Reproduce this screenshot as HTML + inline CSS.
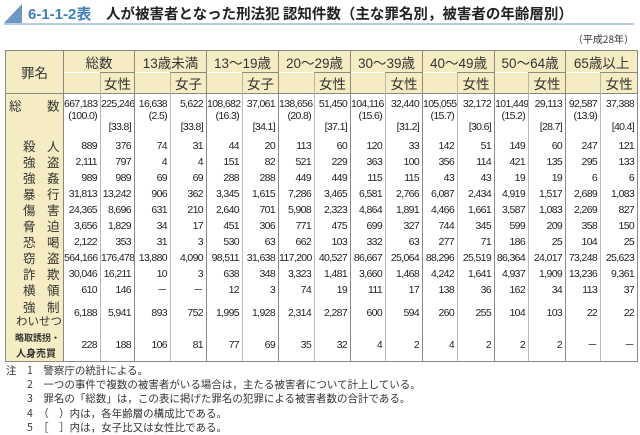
<!DOCTYPE html>
<html><head><meta charset="utf-8">
<style>
body{margin:0;width:640px;height:435px;background:#fff;position:relative;overflow:hidden;font-family:"Liberation Sans","Noto Sans CJK JP",sans-serif;color:#222}
.title{position:absolute;left:0;top:0;width:640px;height:50px}
table{position:absolute;left:5px;top:50px;border-collapse:collapse;table-layout:fixed;width:632px;font-family:"Liberation Sans","Noto Sans CJK JP",sans-serif;}
td{padding:0;font-size:10.5px;letter-spacing:-0.65px;text-align:right;padding-right:3px;white-space:nowrap;overflow:hidden}
.h td{background:#f6ecc4;font-family:"Liberation Sans","Noto Sans CJK JP",sans-serif;font-size:13.5px;letter-spacing:0;color:#333}
.g{border-left:1px solid #8a8a80}
.s{border-left:1px solid #b8b8b0}
.lab{background:#f6ecc4;text-align:left;font-family:"Noto Sans CJK JP",sans-serif;font-size:12.5px;letter-spacing:0;padding:0;position:relative;color:#333;overflow:visible}
.lab span{position:absolute;top:50%;transform:translateY(-50%);white-space:nowrap}
tr.r td{height:16px;line-height:16px}
.notes{position:absolute;left:6px;top:364px;font-family:"Noto Sans CJK JP",sans-serif;font-size:10.5px;line-height:14.2px;color:#333}
.notes div{white-space:nowrap}
</style></head><body>
<svg class="title" width="640" height="50">
<polygon points="4,23 22,4 22,23" fill="#6f97c4"/>
<line x1="4" y1="24" x2="634" y2="24" stroke="#9fbbd8" stroke-width="1.5"/>
<text x="28" y="19" font-family="Liberation Sans,Noto Sans CJK JP,sans-serif" font-size="15" font-weight="bold" fill="#3f7fbf">6-1-1-2表</text>
<text x="106" y="19" font-family="Noto Sans CJK JP,sans-serif" font-size="14.5" font-weight="bold" fill="#222">人が被害者となった刑法犯 認知件数（主な罪名別，被害者の年齢層別）</text>
<text x="634" y="43" text-anchor="end" font-family="Noto Sans CJK JP,sans-serif" font-size="10" fill="#333">（平成28年）</text>
</svg>
<table>
<colgroup><col style="width:58px"><col style="width:37px"><col style="width:34px"><col style="width:36px"><col style="width:36px"><col style="width:36px"><col style="width:36px"><col style="width:36px"><col style="width:36px"><col style="width:35px"><col style="width:37px"><col style="width:35px"><col style="width:37px"><col style="width:34px"><col style="width:37px"><col style="width:35px"><col style="width:37px"></colgroup>
<tr class="h" style="height:22px">
<td rowspan="2" style="border:1px solid #8a8a80;text-align:center;padding:0">罪名</td>
<td colspan="2" class="g" style="text-align:center;padding:0;border-top:1px solid #8a8a80">総数</td>
<td colspan="2" class="g" style="text-align:center;padding:0;border-top:1px solid #8a8a80">13歳未満</td>
<td colspan="2" class="g" style="text-align:center;padding:0;border-top:1px solid #8a8a80">13～19歳</td>
<td colspan="2" class="g" style="text-align:center;padding:0;border-top:1px solid #8a8a80">20～29歳</td>
<td colspan="2" class="g" style="text-align:center;padding:0;border-top:1px solid #8a8a80">30～39歳</td>
<td colspan="2" class="g" style="text-align:center;padding:0;border-top:1px solid #8a8a80">40～49歳</td>
<td colspan="2" class="g" style="text-align:center;padding:0;border-top:1px solid #8a8a80">50～64歳</td>
<td colspan="2" class="g" style="text-align:center;padding:0;border-top:1px solid #8a8a80;border-right:1px solid #8a8a80">65歳以上</td>
</tr>
<tr class="h" style="height:21px">
<td class="g"></td><td class="s" style="border-top:1px solid #8a8a80;text-align:center;padding:0">女性</td>
<td class="g"></td><td class="s" style="border-top:1px solid #8a8a80;text-align:center;padding:0">女子</td>
<td class="g"></td><td class="s" style="border-top:1px solid #8a8a80;text-align:center;padding:0">女子</td>
<td class="g"></td><td class="s" style="border-top:1px solid #8a8a80;text-align:center;padding:0">女性</td>
<td class="g"></td><td class="s" style="border-top:1px solid #8a8a80;text-align:center;padding:0">女性</td>
<td class="g"></td><td class="s" style="border-top:1px solid #8a8a80;text-align:center;padding:0">女性</td>
<td class="g"></td><td class="s" style="border-top:1px solid #8a8a80;text-align:center;padding:0">女性</td>
<td class="g"></td><td class="s" style="border-top:1px solid #8a8a80;text-align:center;padding:0;border-right:1px solid #8a8a80">女性</td>
</tr>
<tr style="height:44px;vertical-align:top;line-height:11.5px">
<td class="lab" style="border-left:1px solid #8a8a80;border-top:1px solid #8a8a80"><span style="left:3px;top:11px">総</span><span style="left:41px;top:11px">数</span></td>
<td class="g" style="border-top:1px solid #8a8a80;padding-top:5px">667,183<br>(100.0)</td><td class="s" style="border-top:1px solid #8a8a80;padding-top:5px">225,246<br><br>[33.8]</td>
<td class="g" style="border-top:1px solid #8a8a80;padding-top:5px">16,638<br>(2.5)</td><td class="s" style="border-top:1px solid #8a8a80;padding-top:5px">5,622<br><br>[33.8]</td>
<td class="g" style="border-top:1px solid #8a8a80;padding-top:5px">108,682<br>(16.3)</td><td class="s" style="border-top:1px solid #8a8a80;padding-top:5px">37,061<br><br>[34.1]</td>
<td class="g" style="border-top:1px solid #8a8a80;padding-top:5px">138,656<br>(20.8)</td><td class="s" style="border-top:1px solid #8a8a80;padding-top:5px">51,450<br><br>[37.1]</td>
<td class="g" style="border-top:1px solid #8a8a80;padding-top:5px">104,116<br>(15.6)</td><td class="s" style="border-top:1px solid #8a8a80;padding-top:5px">32,440<br><br>[31.2]</td>
<td class="g" style="border-top:1px solid #8a8a80;padding-top:5px">105,055<br>(15.7)</td><td class="s" style="border-top:1px solid #8a8a80;padding-top:5px">32,172<br><br>[30.6]</td>
<td class="g" style="border-top:1px solid #8a8a80;padding-top:5px">101,449<br>(15.2)</td><td class="s" style="border-top:1px solid #8a8a80;padding-top:5px">29,113<br><br>[28.7]</td>
<td class="g" style="border-top:1px solid #8a8a80;padding-top:5px">92,587<br>(13.9)</td><td class="s" style="border-top:1px solid #8a8a80;padding-top:5px;border-right:1px solid #8a8a80">37,388<br><br>[40.4]</td>
</tr>
<tr class="r"><td class="lab" style="border-left:1px solid #8a8a80"><span style="left:17px">殺</span><span style="left:41px">人</span></td><td class="g">889</td><td class="s">376</td><td class="g">74</td><td class="s">31</td><td class="g">44</td><td class="s">20</td><td class="g">113</td><td class="s">60</td><td class="g">120</td><td class="s">33</td><td class="g">142</td><td class="s">51</td><td class="g">149</td><td class="s">60</td><td class="g">247</td><td class="s" style="border-right:1px solid #8a8a80">121</td></tr>
<tr class="r"><td class="lab" style="border-left:1px solid #8a8a80"><span style="left:17px">強</span><span style="left:41px">盗</span></td><td class="g">2,111</td><td class="s">797</td><td class="g">4</td><td class="s">4</td><td class="g">151</td><td class="s">82</td><td class="g">521</td><td class="s">229</td><td class="g">363</td><td class="s">100</td><td class="g">356</td><td class="s">114</td><td class="g">421</td><td class="s">135</td><td class="g">295</td><td class="s" style="border-right:1px solid #8a8a80">133</td></tr>
<tr class="r"><td class="lab" style="border-left:1px solid #8a8a80"><span style="left:17px">強</span><span style="left:41px">姦</span></td><td class="g">989</td><td class="s">989</td><td class="g">69</td><td class="s">69</td><td class="g">288</td><td class="s">288</td><td class="g">449</td><td class="s">449</td><td class="g">115</td><td class="s">115</td><td class="g">43</td><td class="s">43</td><td class="g">19</td><td class="s">19</td><td class="g">6</td><td class="s" style="border-right:1px solid #8a8a80">6</td></tr>
<tr class="r"><td class="lab" style="border-left:1px solid #8a8a80"><span style="left:17px">暴</span><span style="left:41px">行</span></td><td class="g">31,813</td><td class="s">13,242</td><td class="g">906</td><td class="s">362</td><td class="g">3,345</td><td class="s">1,615</td><td class="g">7,286</td><td class="s">3,465</td><td class="g">6,581</td><td class="s">2,766</td><td class="g">6,087</td><td class="s">2,434</td><td class="g">4,919</td><td class="s">1,517</td><td class="g">2,689</td><td class="s" style="border-right:1px solid #8a8a80">1,083</td></tr>
<tr class="r"><td class="lab" style="border-left:1px solid #8a8a80"><span style="left:17px">傷</span><span style="left:41px">害</span></td><td class="g">24,365</td><td class="s">8,696</td><td class="g">631</td><td class="s">210</td><td class="g">2,640</td><td class="s">701</td><td class="g">5,908</td><td class="s">2,323</td><td class="g">4,864</td><td class="s">1,891</td><td class="g">4,466</td><td class="s">1,661</td><td class="g">3,587</td><td class="s">1,083</td><td class="g">2,269</td><td class="s" style="border-right:1px solid #8a8a80">827</td></tr>
<tr class="r"><td class="lab" style="border-left:1px solid #8a8a80"><span style="left:17px">脅</span><span style="left:41px">迫</span></td><td class="g">3,656</td><td class="s">1,829</td><td class="g">34</td><td class="s">17</td><td class="g">451</td><td class="s">306</td><td class="g">771</td><td class="s">475</td><td class="g">699</td><td class="s">327</td><td class="g">744</td><td class="s">345</td><td class="g">599</td><td class="s">209</td><td class="g">358</td><td class="s" style="border-right:1px solid #8a8a80">150</td></tr>
<tr class="r"><td class="lab" style="border-left:1px solid #8a8a80"><span style="left:17px">恐</span><span style="left:41px">喝</span></td><td class="g">2,122</td><td class="s">353</td><td class="g">31</td><td class="s">3</td><td class="g">530</td><td class="s">63</td><td class="g">662</td><td class="s">103</td><td class="g">332</td><td class="s">63</td><td class="g">277</td><td class="s">71</td><td class="g">186</td><td class="s">25</td><td class="g">104</td><td class="s" style="border-right:1px solid #8a8a80">25</td></tr>
<tr class="r"><td class="lab" style="border-left:1px solid #8a8a80"><span style="left:17px">窃</span><span style="left:41px">盗</span></td><td class="g">564,166</td><td class="s">176,478</td><td class="g">13,880</td><td class="s">4,090</td><td class="g">98,511</td><td class="s">31,638</td><td class="g">117,200</td><td class="s">40,527</td><td class="g">86,667</td><td class="s">25,064</td><td class="g">88,296</td><td class="s">25,519</td><td class="g">86,364</td><td class="s">24,017</td><td class="g">73,248</td><td class="s" style="border-right:1px solid #8a8a80">25,623</td></tr>
<tr class="r"><td class="lab" style="border-left:1px solid #8a8a80"><span style="left:17px">詐</span><span style="left:41px">欺</span></td><td class="g">30,046</td><td class="s">16,211</td><td class="g">10</td><td class="s">3</td><td class="g">638</td><td class="s">348</td><td class="g">3,323</td><td class="s">1,481</td><td class="g">3,660</td><td class="s">1,468</td><td class="g">4,242</td><td class="s">1,641</td><td class="g">4,937</td><td class="s">1,909</td><td class="g">13,236</td><td class="s" style="border-right:1px solid #8a8a80">9,361</td></tr>
<tr class="r"><td class="lab" style="border-left:1px solid #8a8a80"><span style="left:17px">横</span><span style="left:41px">領</span></td><td class="g">610</td><td class="s">146</td><td class="g">－</td><td class="s">－</td><td class="g">12</td><td class="s">3</td><td class="g">74</td><td class="s">19</td><td class="g">111</td><td class="s">17</td><td class="g">138</td><td class="s">36</td><td class="g">162</td><td class="s">34</td><td class="g">113</td><td class="s" style="border-right:1px solid #8a8a80">37</td></tr>
<tr style="height:31px"><td class="lab" style="border-left:1px solid #8a8a80;line-height:15px"><span style="left:17px;top:1px;transform:none">強</span><span style="left:41px;top:1px;transform:none">制</span><span style="left:10px;top:16px;transform:none;font-size:11.5px">わいせつ</span></td><td class="g">6,188</td><td class="s">5,941</td><td class="g">893</td><td class="s">752</td><td class="g">1,995</td><td class="s">1,928</td><td class="g">2,314</td><td class="s">2,287</td><td class="g">600</td><td class="s">594</td><td class="g">260</td><td class="s">255</td><td class="g">104</td><td class="s">103</td><td class="g">22</td><td class="s" style="border-right:1px solid #8a8a80">22</td></tr>
<tr style="height:33px"><td class="lab" style="border-left:1px solid #8a8a80;border-bottom:1px solid #8a8a80;line-height:14px"><span style="left:9px;top:2px;transform:none;font-size:9px;font-weight:bold">略取誘拐・</span><span style="left:10px;top:17px;transform:none;font-size:10px;font-weight:bold">人身売買</span></td><td class="g" style="border-bottom:1px solid #8a8a80">228</td><td class="s" style="border-bottom:1px solid #8a8a80">188</td><td class="g" style="border-bottom:1px solid #8a8a80">106</td><td class="s" style="border-bottom:1px solid #8a8a80">81</td><td class="g" style="border-bottom:1px solid #8a8a80">77</td><td class="s" style="border-bottom:1px solid #8a8a80">69</td><td class="g" style="border-bottom:1px solid #8a8a80">35</td><td class="s" style="border-bottom:1px solid #8a8a80">32</td><td class="g" style="border-bottom:1px solid #8a8a80">4</td><td class="s" style="border-bottom:1px solid #8a8a80">2</td><td class="g" style="border-bottom:1px solid #8a8a80">4</td><td class="s" style="border-bottom:1px solid #8a8a80">2</td><td class="g" style="border-bottom:1px solid #8a8a80">2</td><td class="s" style="border-bottom:1px solid #8a8a80">2</td><td class="g" style="border-bottom:1px solid #8a8a80">－</td><td class="s" style="border-right:1px solid #8a8a80;border-bottom:1px solid #8a8a80">－</td></tr>
</table>
<div class="notes">
<div>注　1　警察庁の統計による。</div>
<div>　　2　一つの事件で複数の被害者がいる場合は，主たる被害者について計上している。</div>
<div>　　3　罪名の「総数」は，この表に掲げた罪名の犯罪による被害者数の合計である。</div>
<div>　　4　（　）内は，各年齢層の構成比である。</div>
<div>　　5　［　］内は，女子比又は女性比である。</div>
</div>
</body></html>
